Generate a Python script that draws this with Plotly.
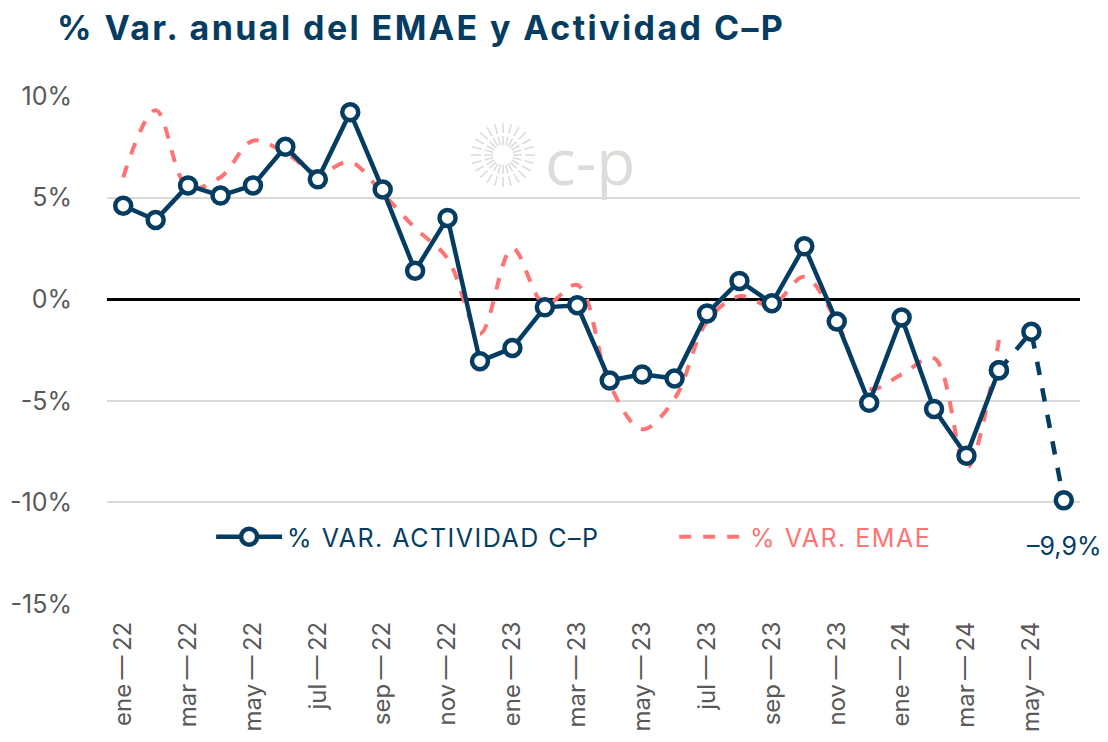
import math
import plotly.graph_objects as go

months = ["ene-22", "feb-22", "mar-22", "abr-22", "may-22", "jun-22", "jul-22", "ago-22", "sep-22", "oct-22", "nov-22", "dic-22",
          "ene-23", "feb-23", "mar-23", "abr-23", "may-23", "jun-23", "jul-23", "ago-23", "sep-23", "oct-23", "nov-23", "dic-23",
          "ene-24", "feb-24", "mar-24", "abr-24", "may-24", "jun-24"]

cp_values = [4.6, 3.9, 5.6, 5.1, 5.6, 7.5, 5.9, 9.2, 5.4, 1.4, 4.0, -3.05,
             -2.4, -0.4, -0.3, -4.0, -3.7, -3.9, -0.7, 0.9, -0.2, 2.6, -1.1, -5.1,
             -0.9, -5.4, -7.7, -3.5, -1.6, -9.9]

emae_values = [6.0, 9.3, 5.5, 6.0, 7.8, 7.2, 6.2, 6.75, 5.2, 3.5, 2.0, -1.7,
               2.5, -0.25, 0.7, -4.2, -6.4, -4.9, -1.1, 0.15, -0.3, 1.1, -1.1, -4.4,
               -3.7, -2.9, -8.3, -2.0]

n_solid = 28  # C-P solid through abr-24, dashed afterwards

tick_months = months[::2]
tick_text = [m.replace("-", "\u2009\u2014\u2009") for m in tick_months]
y_ticks = [10, 5, 0, -5, -10, -15]
y_ticktext = ["10%", "5%", "0%", "-5%", "-10%", "-15%"]

BLUE = "#053d62"
PINK = "#ff7473"
GRAY = "#595959"
FONT = "Inter"

# page body has an 8px margin; figure is sized so the plot area lands at 107..1080 x 96..604
W, H = 1100, 734
OFF = 8

fig = go.Figure()

fig.add_trace(go.Scatter(
    x=months[:len(emae_values)], y=emae_values, mode="lines",
    line=dict(color=PINK, width=4, dash="dash", shape="spline", smoothing=1.0),
    name=f"<span style='color:{PINK};letter-spacing:1.5px'>% VAR. EMAE</span>",
    legendrank=2,
))

fig.add_trace(go.Scatter(
    x=months[n_solid - 1:], y=cp_values[n_solid - 1:], mode="lines+markers",
    line=dict(color=BLUE, width=4.5, dash="dash"),
    marker=dict(size=16, color="white", line=dict(color=BLUE, width=4.5)),
    showlegend=False,
))

fig.add_trace(go.Scatter(
    x=months[:n_solid], y=cp_values[:n_solid], mode="lines+markers",
    line=dict(color=BLUE, width=4.5),
    marker=dict(size=16, color="white", line=dict(color=BLUE, width=4.5)),
    name=f"<span style='color:{BLUE};letter-spacing:1.5px'>% VAR. ACTIVIDAD C\u2013P</span>",
    legendrank=1,
))

# last value label
last = cp_values[-1]
last_txt = f"{abs(last):.1f}%".replace(".", ",")
if last < 0:
    last_txt = "\u2013" + last_txt
fig.add_annotation(
    x=months[-1], y=last, text=last_txt,
    showarrow=False, yshift=-46, xshift=0,
    font=dict(family=FONT, size=25, color=BLUE),
)

# watermark logo
fig.add_annotation(
    xref="paper", yref="paper", x=(590 - 107) / 973, y=(604 - 160) / 508,
    xanchor="center", yanchor="middle",
    text="c-p", showarrow=False,
    font=dict(family="Open Sans", size=64, color="#dcdcd8"),
)
cx, cy = 503, 155
for k in range(24):
    a = 2 * math.pi * k / 24
    for r0, r1 in [(10, 19), (22, 32)]:
        x0 = cx + r0 * math.cos(a); y0 = cy + r0 * math.sin(a)
        x1 = cx + r1 * math.cos(a); y1 = cy + r1 * math.sin(a)
        fig.add_shape(type="line", xref="paper", yref="paper",
                      x0=(x0 - 107) / 973, x1=(x1 - 107) / 973,
                      y0=(604 - y0) / 508, y1=(604 - y1) / 508,
                      line=dict(color="#dcdcd8", width=1.6), layer="below")

fig.update_layout(
    width=W, height=H,
    margin=dict(l=107 - OFF, r=28, t=96 - OFF, b=138, autoexpand=False),
    paper_bgcolor="white", plot_bgcolor="white",
    title=dict(text="<b><span style='letter-spacing:2.4px'>% Var. anual del EMAE y Actividad C\u2013P</span></b>",
               x=(57 - OFF) / W, xanchor="left", y=1 - (28 - OFF) / H, yanchor="middle",
               font=dict(family=FONT, size=34, color=BLUE, weight=900)),
    legend=dict(orientation="h", x=0.107, xanchor="left", y=(604 - 537) / 508, yanchor="middle",
                font=dict(family=FONT, size=25), bgcolor="rgba(0,0,0,0)",
                entrywidth=382, entrywidthmode="pixels", itemwidth=66, traceorder="normal"),
    showlegend=True,
)

fig.update_xaxes(
    type="category", categoryorder="array", categoryarray=months,
    range=[-0.5, len(months) - 0.5],
    tickmode="array", tickvals=tick_months, ticktext=tick_text,
    tickangle=-90, tickfont=dict(family=FONT, size=24, color=GRAY),
    showgrid=False, showline=False, zeroline=False, ticks="", automargin=False,
    ticklabelstandoff=12,
)
fig.update_yaxes(
    range=[-15, 10], tickmode="array", tickvals=y_ticks, ticktext=y_ticktext,
    tickfont=dict(family=FONT, size=25, color=GRAY),
    showgrid=True, gridcolor="#d9d9d9", gridwidth=1.5,
    zeroline=True, zerolinecolor="black", zerolinewidth=3,
    showline=False, ticks="", ticklabelstandoff=34, automargin=False,
)

fig.write_html("out.html")
